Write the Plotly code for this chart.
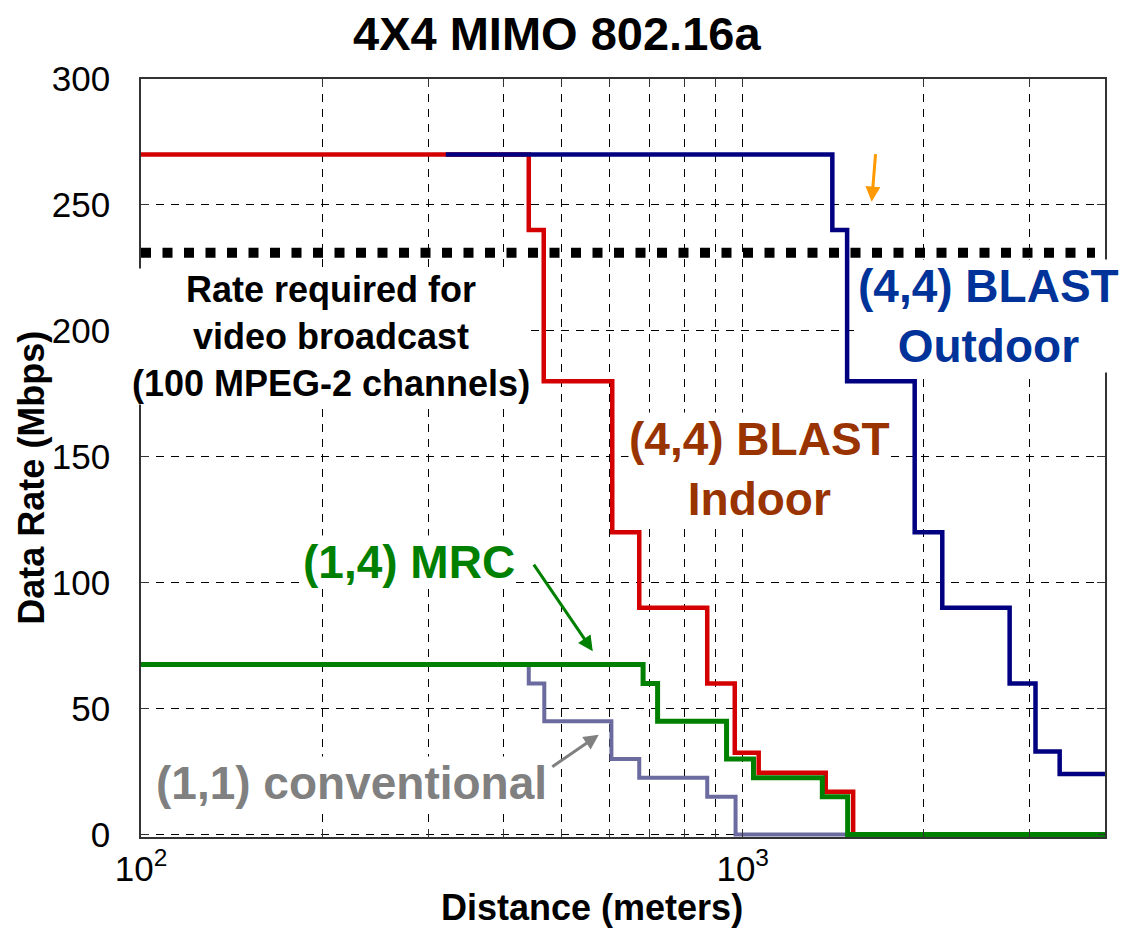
import plotly.graph_objects as go
import math

# ---- data ----
indoor_x = [100, 441, 467, 607, 673, 873, 970, 1063, 1374, 1526, 4000]
indoor_y = [270, 240, 180, 120, 90, 60, 32.5, 24.5, 17, 0, 0]

outdoor_x = [321, 1409, 1491, 1931, 2146, 2777, 3066, 3363, 4000]
outdoor_y = [270, 240, 180, 120, 90, 60, 33, 24, 24]

mrc_x = [100, 683, 722, 940, 1042, 1356, 1494, 4000]
mrc_y = [67.5, 60, 45, 30, 22.5, 15, 0, 0]

conv_x = [100, 441, 468, 605, 673, 873, 973, 4000]
conv_y = [67.5, 60, 45, 30, 22.5, 15, 0, 0]

video_x = [100, 3850]
video_y = [231, 231]

x_tickvals = [100, 200, 300, 400, 500, 600, 700, 800, 900, 1000, 2000, 3000]
x_ticktext = ["10<sup>2</sup>", "", "", "", "", "", "", "", "", "10<sup>3</sup>", "", ""]
y_tickvals = [0, 50, 100, 150, 200, 250, 300]

FONT = "Liberation Sans, Arial, sans-serif"

fig = go.Figure()

fig.add_trace(go.Scatter(x=conv_x, y=conv_y, mode="lines", line_shape="hv",
                         line=dict(color="#6B6BA0", width=4)))
fig.add_trace(go.Scatter(x=indoor_x, y=indoor_y, mode="lines", line_shape="hv",
                         line=dict(color="#D40000", width=4.5)))
fig.add_trace(go.Scatter(x=outdoor_x, y=outdoor_y, mode="lines", line_shape="hv",
                         line=dict(color="#000080", width=4.5)))
fig.add_trace(go.Scatter(x=mrc_x, y=mrc_y, mode="lines", line_shape="hv",
                         line=dict(color="#008000", width=5)))
fig.add_trace(go.Scatter(x=video_x, y=video_y, mode="lines",
                         line=dict(color="black", width=10, dash="10px,11.5px")))

def lx(v):
    return math.log10(v)

annotations = [
    dict(text="4X4 MIMO 802.16a", xref="paper", yref="paper", x=0.4315, y=1.06,
         showarrow=False, xanchor="center", yanchor="middle",
         font=dict(family=FONT, size=47, color="black", weight="bold")),
    dict(text="Distance (meters)", xref="paper", yref="paper", x=0.468, y=-0.093,
         showarrow=False, xanchor="center", yanchor="middle",
         font=dict(family=FONT, size=36, color="black", weight="bold")),
    dict(text="Data Rate (Mbps)", xref="paper", yref="paper", x=-0.1131, y=0.474,
         showarrow=False, xanchor="center", yanchor="middle", textangle=-90,
         font=dict(family=FONT, size=36, color="black", weight="bold")),
    dict(text="Rate required for<br>video broadcast<br>(100 MPEG-2 channels)",
         x=lx(206.8), y=197.9, showarrow=False, xanchor="center", yanchor="middle",
         bgcolor="white", borderpad=0,
         font=dict(family=FONT, size=36, color="black", weight="bold")),
    dict(text="(4,4) BLAST<br>Outdoor", x=3.4086, y=206, showarrow=False,
         xanchor="center", yanchor="middle", bgcolor="white", borderpad=0,
         font=dict(family=FONT, size=46, color="#003399", weight="bold")),
    dict(text="(4,4) BLAST<br>Indoor", x=3.0282, y=145, showarrow=False,
         xanchor="center", yanchor="middle", bgcolor="white", borderpad=0,
         font=dict(family=FONT, size=46, color="#993300", weight="bold")),
    dict(text="(1,4) MRC", x=2.4452, y=108.4, showarrow=False,
         xanchor="center", yanchor="middle", bgcolor="white", borderpad=0,
         font=dict(family=FONT, size=46, color="#008000", weight="bold")),
    dict(text="(1,1) conventional", x=2.3490, y=20.4, showarrow=False,
         xanchor="center", yanchor="middle", bgcolor="white", borderpad=0,
         font=dict(family=FONT, size=46, color="#808080", weight="bold")),
    # arrows
    dict(text="", x=2.7508, y=72.8, ax=-60, ay=-88, showarrow=True,
         arrowhead=2, arrowsize=1, arrowwidth=3, arrowcolor="#008000", standoff=0),
    dict(text="", x=2.7608, y=39.6, ax=-48, ay=33, showarrow=True,
         arrowhead=2, arrowsize=1, arrowwidth=3, arrowcolor="#808080", standoff=0),
    dict(text="", x=3.2143, y=251.3, ax=4, ay=-49, showarrow=True,
         arrowhead=2, arrowsize=1, arrowwidth=3, arrowcolor="#FF9900", standoff=0),
]

fig.update_layout(
    width=1128, height=940,
    margin=dict(l=141, r=23, t=79, b=103),
    paper_bgcolor="white", plot_bgcolor="white",
    showlegend=False,
    annotations=annotations,
    font=dict(family=FONT, color="black"),
)

fig.update_xaxes(
    type="log", range=[2, math.log10(4000)],
    tickvals=x_tickvals, ticktext=x_ticktext, tickangle=0,
    tickfont=dict(family=FONT, size=35, color="black"),
    showgrid=True, gridcolor="black", gridwidth=1, griddash="8px,7px",
    showline=True, linecolor="#333333", linewidth=1.5, mirror="ticks",
    ticks="inside", ticklen=8, tickcolor="#333333", ticklabelstandoff=0,
    zeroline=False,
)
fig.update_yaxes(
    range=[-1, 300],
    tickvals=y_tickvals,
    tickfont=dict(family=FONT, size=35, color="black"),
    showgrid=True, gridcolor="black", gridwidth=1, griddash="8px,7px",
    showline=True, linecolor="#333333", linewidth=1.5, mirror="ticks",
    ticks="inside", ticklen=8, tickcolor="#333333", ticklabelstandoff=22,
    zeroline=False,
)

fig.write_html("out.html")
